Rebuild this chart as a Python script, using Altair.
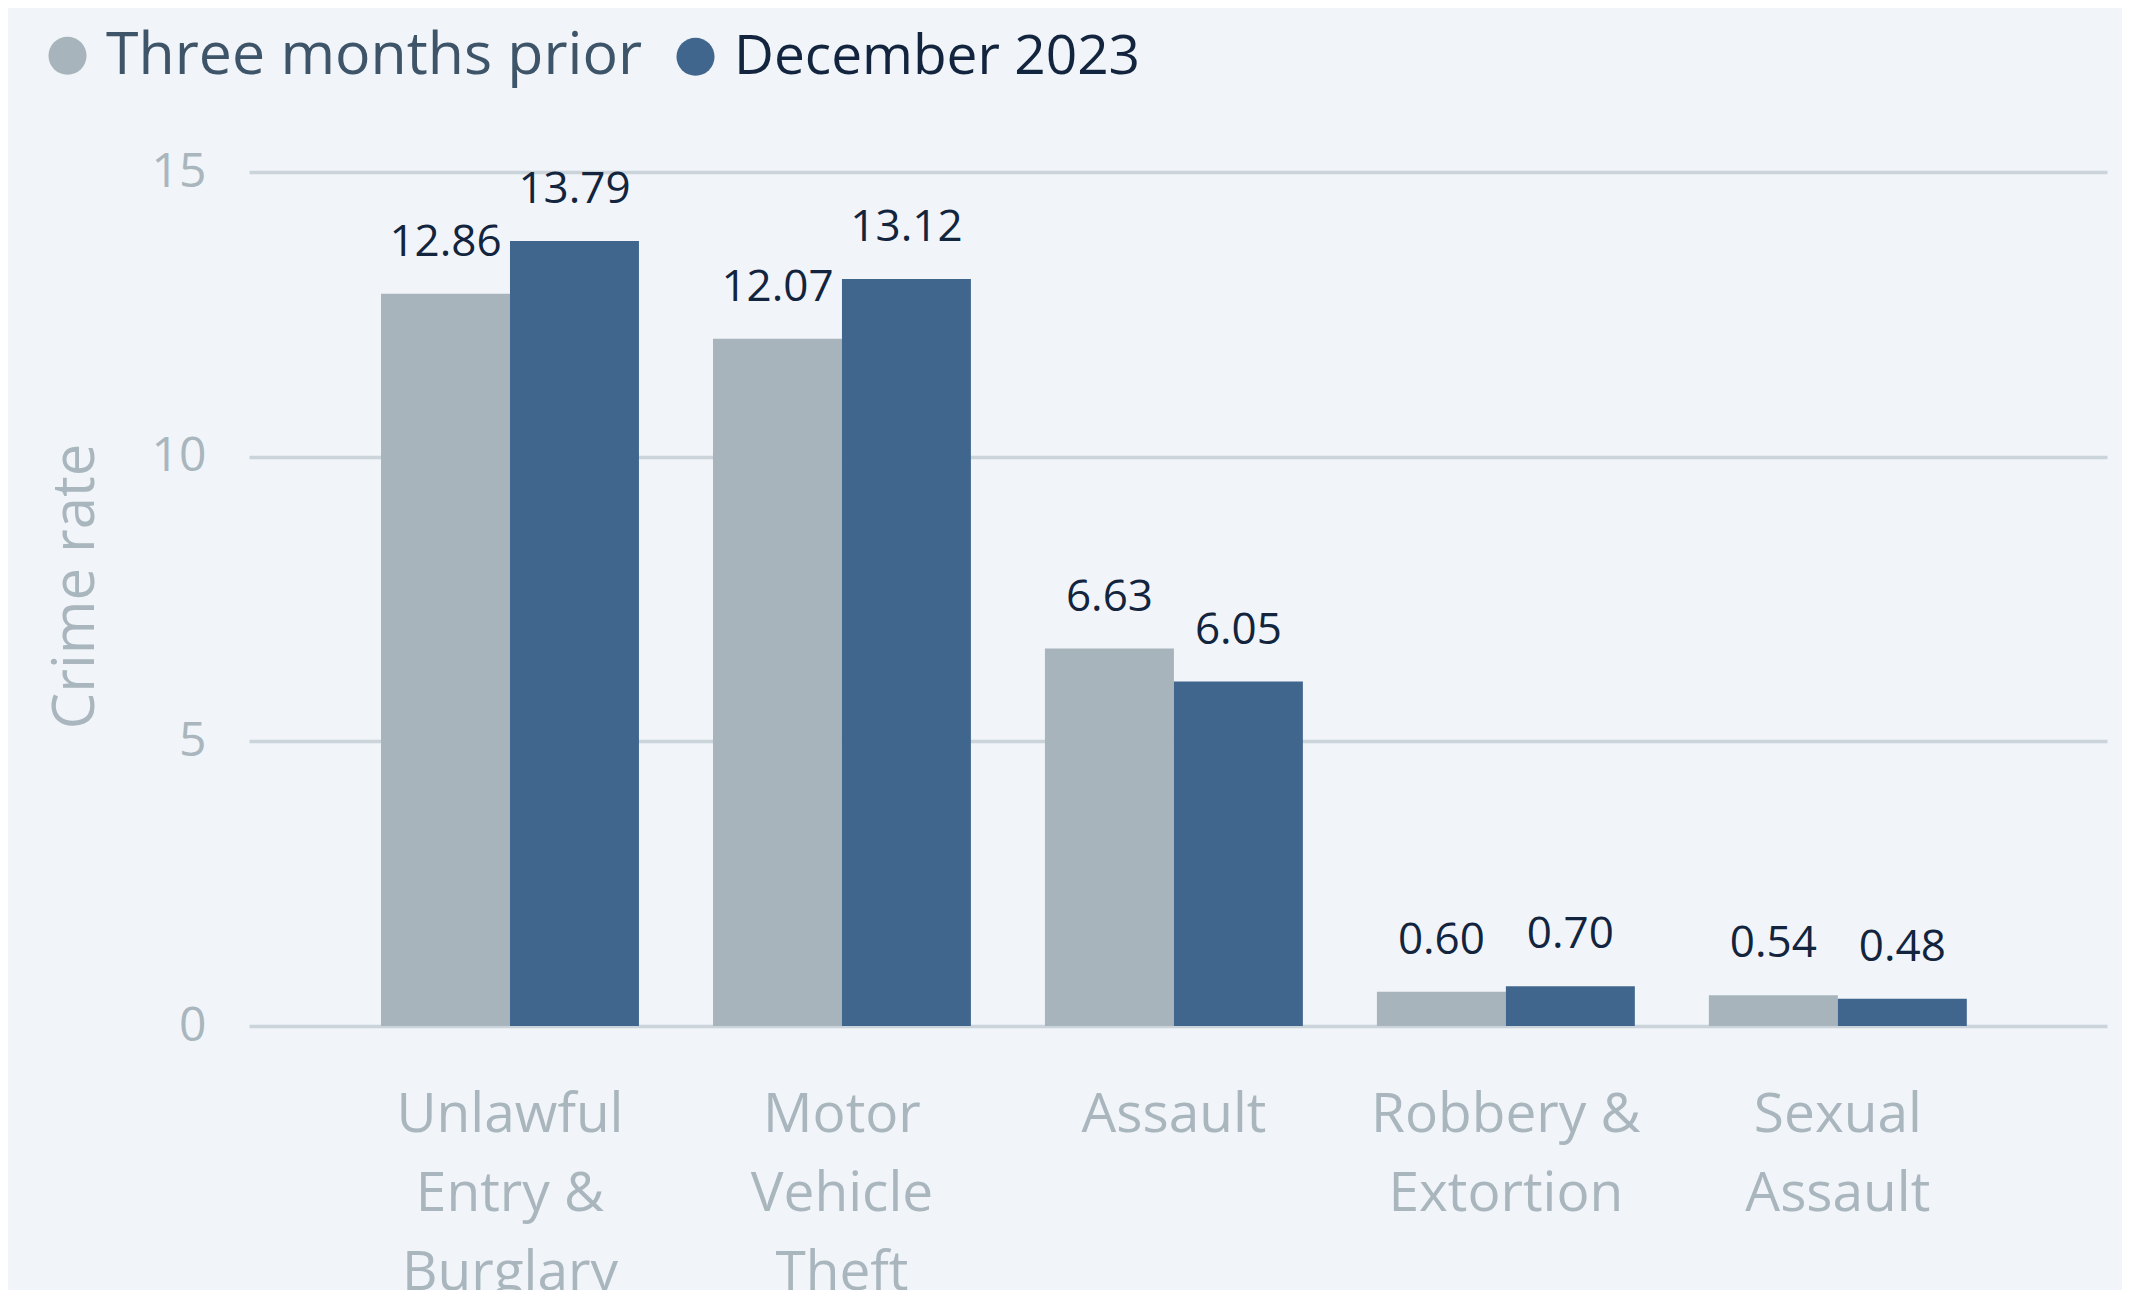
import altair as alt
import pandas as pd

categories = ["Unlawful\nEntry &\nBurglary", "Motor\nVehicle\nTheft", "Assault",
              "Robbery &\nExtortion", "Sexual\nAssault"]
series = ["Three months prior", "December 2023"]
prior_values = [12.86, 12.07, 6.63, 0.60, 0.54]
dec_values = [13.79, 13.12, 6.05, 0.70, 0.48]
y_ticks = [0, 5, 10, 15]

rows = []
for c, p, d in zip(categories, prior_values, dec_values):
    rows.append({"category": c, "series": series[0], "value": p})
    rows.append({"category": c, "series": series[1], "value": d})
df = pd.DataFrame(rows)

FONT = "Open Sans"
AXIS_GREY = "#a9b6bd"
GRID = "#cbd4da"
LABEL_DARK = "#13253e"

x_enc = alt.X("category:N", sort=categories,
              scale=alt.Scale(paddingInner=0.223, paddingOuter=0.41, align=0.485),
              axis=alt.Axis(title=None, labelAngle=0, ticks=False, domain=False,
                            labelExpr="split(datum.label, '\\n')",
                            labelFont=FONT, labelFontSize=55, labelColor=AXIS_GREY,
                            labelLineHeight=79, labelPadding=62, labelLimit=0))
xo_enc = alt.XOffset("series:N", sort=series,
                     scale=alt.Scale(paddingInner=0, paddingOuter=0))
y_enc = alt.Y("value:Q", scale=alt.Scale(domain=[0, 15], nice=False),
              axis=alt.Axis(title="Crime rate", values=y_ticks, ticks=False, domain=False,
                            grid=True, gridColor=GRID, gridWidth=3.5,
                            labelFont=FONT, labelFontSize=48, labelColor=AXIS_GREY,
                            labelPadding=43,
                            titleFont=FONT, titleFontSize=58, titleColor=AXIS_GREY,
                            titleFontWeight="normal", titlePadding=46, titleY=414))
color_enc = alt.Color("series:N", sort=series,
                      scale=alt.Scale(domain=series, range=["#a7b4bb", "#41668e"]),
                      legend=alt.Legend(title=None, orient="none", direction="horizontal",
                                        legendX=-211, legendY=-146,
                                        symbolType="circle", symbolSize=1450,
                                        symbolStrokeWidth=0, symbolOpacity=1,
                                        labelFont=FONT,
                                        labelFontSize=alt.ExprRef("datum.label == 'December 2023' ? 55 : 59"),
                                        labelColor=alt.ExprRef("datum.label == 'December 2023' ? '#13253e' : '#3e5468'"),
                                        labelOffset=9, columnPadding=23,
                                        labelLimit=1000))

base = alt.Chart(df).encode(x=x_enc, xOffset=xo_enc, y=y_enc)
bars = base.mark_bar().encode(color=color_enc)
labels = base.mark_text(dy=-38, baseline="alphabetic", font=FONT, fontSize=44,
                        color=LABEL_DARK).encode(text=alt.Text("value:Q", format=".2f"))

chart = (bars + labels).properties(
    width=1858, height=854,
    autosize=alt.AutoSizeParams(type="none"),
    padding={"left": 241, "top": 164, "right": 15, "bottom": 264},
    background="#f1f5f9",
).configure_view(stroke=None)

chart.save("out.html", embed_options={"renderer": "svg", "actions": False})
